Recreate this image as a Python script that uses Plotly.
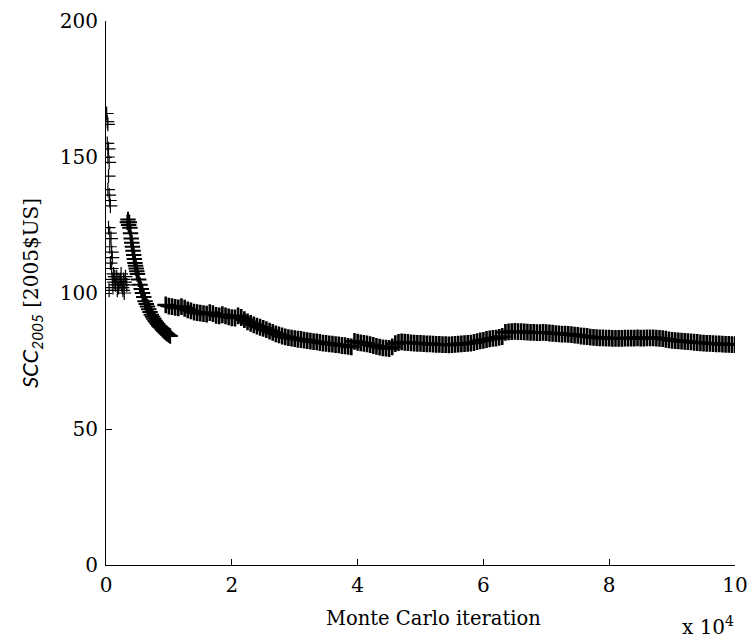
import plotly.graph_objects as go

# x in units of 10^4 Monte Carlo iterations; values are running-mean SCC [2005$US]
early_x = [0.01, 0.02, 0.03, 0.02, 0.04, 0.03, 0.05, 0.04, 0.03, 0.05, 0.06, 0.07,
           0.04, 0.06, 0.08, 0.06, 0.09, 0.10, 0.07, 0.09, 0.12, 0.10, 0.13, 0.15,
           0.17, 0.19, 0.20, 0.22, 0.24, 0.25, 0.27, 0.28, 0.30, 0.31, 0.33, 0.05,
           0.11, 0.14, 0.18, 0.23, 0.26, 0.29]
early_v = [166, 163, 162, 155, 153, 150, 148, 143, 138, 136, 134, 132,
           124, 122, 120, 117, 115, 113, 111, 109, 107, 105, 104, 103,
           106, 105, 102, 104, 107, 103, 101, 105, 104, 106, 103, 101,
           102, 106, 101, 105, 102, 100]

seg1_x = [0.34, 0.35, 0.36, 0.37, 0.38, 0.39, 0.40, 0.41, 0.42, 0.43, 0.44, 0.45,
          0.46, 0.47, 0.48, 0.49, 0.50, 0.52, 0.54, 0.56, 0.58, 0.60, 0.62, 0.64,
          0.66, 0.68, 0.70, 0.72, 0.74, 0.76, 0.78, 0.80, 0.82, 0.84, 0.86, 0.88,
          0.90, 0.92, 0.94, 0.96, 0.98, 1.00, 1.02]
seg1_v = [126, 127, 125, 126, 124, 122, 120, 118.5, 117, 115.5, 114, 112.5,
          111, 110, 109, 108, 107, 105, 103, 101.5, 100, 98.5, 97, 96,
          95, 94, 93, 92, 91.3, 90.5, 89.8, 89.2, 88.6, 88, 87.5, 87,
          86.5, 86, 85.6, 85.2, 84.8, 84.5, 84.2]

seg2_start = 0.95
seg2_step = 0.05
seg2_v = [
    95.6, 95.2, 95.0, 94.7, 94.5, 95.0, 94.4, 93.8, 93.4, 93.0, 92.8, 92.6, 92.4, 92.2, 92.8, 92.4, 91.8, 91.6, 92.0, 91.6,
    91.2, 90.9, 90.8, 91.6, 91.0, 90.2, 89.4, 88.8, 88.3, 87.8, 87.4, 87.0, 86.5, 86.0, 85.5, 85.0, 84.6, 84.2, 83.9, 83.6,
    83.4, 83.2, 83.0, 82.9, 82.7, 82.5, 82.3, 82.1, 82.0, 81.8, 81.6, 81.5, 81.3, 81.2, 81.0, 80.9, 80.7, 80.6, 80.4, 80.2,
    82.2, 81.9, 81.7, 81.5, 81.3, 81.0, 80.7, 80.4, 80.1, 79.8, 79.7, 79.6, 80.2, 81.4, 81.8, 82.0, 81.9, 81.8, 81.7, 81.6,
    81.5, 81.5, 81.4, 81.3, 81.3, 81.2, 81.1, 81.1, 81.0, 81.0, 80.9, 81.0, 81.1, 81.2, 81.3, 81.4, 81.5, 81.6, 81.8, 82.1,
    82.4, 82.6, 82.9, 83.1, 83.3, 83.4, 83.7, 84.0, 85.5, 85.7, 85.8, 85.9, 85.8, 85.8, 85.7, 85.6, 85.5, 85.5, 85.4, 85.4,
    85.5, 85.4, 85.3, 85.2, 85.1, 85.0, 84.9, 84.9, 84.8, 84.7, 84.5, 84.4, 84.2, 84.1, 84.0, 83.8, 83.7, 83.6, 83.5, 83.5,
    83.4, 83.4, 83.3, 83.3, 83.3, 83.3, 83.4, 83.4, 83.4, 83.4, 83.5, 83.4, 83.4, 83.5, 83.5, 83.5, 83.4, 83.3, 83.2, 83.0,
    82.8, 82.6, 82.5, 82.4, 82.3, 82.2, 82.1, 82.0, 81.9, 81.8, 81.7, 81.6, 81.5, 81.5, 81.4, 81.3, 81.3, 81.2, 81.1, 81.1,
    81.0, 81.0,
]
seg2_x = [round(seg2_start + i * seg2_step, 3) for i in range(len(seg2_v))]

x_ticks = [0, 2, 4, 6, 8, 10]
y_ticks = [0, 50, 100, 150, 200]

FONT = "DejaVu Serif"

fig = go.Figure()
fig.add_trace(go.Scatter(
    x=early_x, y=early_v, mode="markers",
    marker=dict(symbol="cross-thin", size=10, line=dict(color="black", width=1.2)),
    showlegend=False, hoverinfo="skip"))
fig.add_trace(go.Scatter(
    x=seg1_x, y=seg1_v, mode="markers",
    marker=dict(symbol="cross-thin", size=11, line=dict(color="black", width=2.0)),
    showlegend=False, hoverinfo="skip"))
fig.add_trace(go.Scatter(
    x=seg2_x, y=seg2_v, mode="markers",
    marker=dict(symbol="cross-thin", size=12, line=dict(color="black", width=2.6)),
    showlegend=False, hoverinfo="skip"))

fig.update_layout(
    width=754, height=643,
    margin=dict(l=106, r=19, t=21, b=78, autoexpand=False),
    paper_bgcolor="white", plot_bgcolor="white",
    font=dict(family=FONT, size=20, color="black"),
    hovermode=False,
    xaxis=dict(range=[0, 10], tickvals=x_ticks, ticktext=[str(t) for t in x_ticks],
               showgrid=False, zeroline=False, showline=True, linecolor="black", linewidth=1,
               ticks="inside", ticklen=6, tickcolor="black", mirror=False, automargin=False,
               ticklabelstandoff=2),
    yaxis=dict(range=[0, 200], tickvals=y_ticks, ticktext=[str(t) for t in y_ticks],
               showgrid=False, zeroline=False, showline=True, linecolor="black", linewidth=1,
               ticks="inside", ticklen=6, tickcolor="black", mirror=False, automargin=False,
               ticklabelstandoff=3,
               title=dict(text="<span style=\"font-family:Lato;font-size:22px\"><i>SCC<sub>2005</sub></i></span> [2005$US]",
                          standoff=15, font=dict(size=20))),
    annotations=[
        dict(text="Monte Carlo iteration", xref="paper", yref="paper", x=0.52, y=0,
             xanchor="center", yanchor="top", yshift=-40,
             showarrow=False, font=dict(family=FONT, size=19.5)),
        dict(text="x 10<sup>4</sup>", xref="paper", yref="paper", x=1.0, y=0,
             xanchor="right", yanchor="top", yshift=-46, xshift=1,
             showarrow=False, font=dict(family=FONT, size=20)),
    ],
)

fig.write_html("out.html", config={"displayModeBar": False, "staticPlot": True},
               post_script="document.body.style.margin='0px';document.body.style.overflow='hidden';")
